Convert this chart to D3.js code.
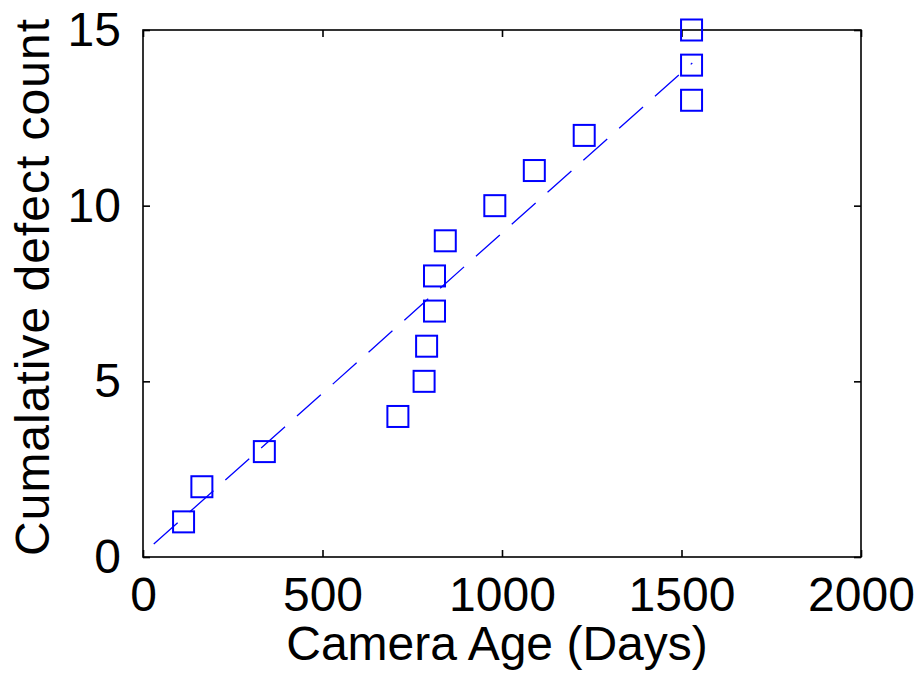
<!DOCTYPE html>
<html>
<head>
<meta charset="utf-8">
<script src="https://cdn.jsdelivr.net/npm/d3@7"></script>
<style>
  body { margin: 0; background: #fff; }
  text { font-family: "Liberation Sans", Arial, sans-serif; fill: #000; }
</style>
</head>
<body>
<div id="container"></div>
<script>
// defect data
var ageDays = [113, 164, 338, 710, 783, 790, 812, 812, 842, 980, 1090, 1229, 1528, 1528, 1528];
var defectCount = [1, 2, 3, 4, 5, 6, 7, 8, 9, 10, 11, 12, 13, 14, 15];

// dashed fit line end points
var fitX = [30, 1530];
var fitY = [0.37, 14.06];

var xTicks = [0, 500, 1000, 1500, 2000];
var yTicks = [0, 5, 10, 15];

var W = 919, H = 675;
var plotLeft = 143, plotRight = 861, plotTop = 30, plotBottom = 557;

var svg = d3.select("#container")
    .append("svg")
    .attr("width", W)
    .attr("height", H);

svg.append("rect").attr("width", W).attr("height", H).attr("fill", "#fff");

var x = d3.scaleLinear().domain([0, 2000]).range([plotLeft, plotRight]);
var y = d3.scaleLinear().domain([0, 15]).range([plotBottom, plotTop]);

var tickLen = 7;
var fmt = d3.format("d");

// axes, ticks pointing inwards like matlab
svg.append("g")
    .attr("transform", "translate(0," + plotBottom + ")")
    .call(d3.axisBottom(x).tickValues(xTicks).tickFormat(fmt).tickSize(-tickLen).tickPadding(20).tickSizeOuter(0));

svg.append("g")
    .attr("transform", "translate(0," + plotTop + ")")
    .call(d3.axisTop(x).tickValues(xTicks).tickSize(-tickLen).tickFormat("").tickSizeOuter(0));

svg.append("g")
    .attr("transform", "translate(" + plotLeft + ",0)")
    .call(d3.axisLeft(y).tickValues(yTicks).tickFormat(fmt).tickSize(-tickLen).tickPadding(22).tickSizeOuter(0));

svg.append("g")
    .attr("transform", "translate(" + plotRight + ",0)")
    .call(d3.axisRight(y).tickValues(yTicks).tickSize(-tickLen).tickFormat("").tickSizeOuter(0));

svg.selectAll(".domain").remove();
svg.selectAll(".tick line").attr("stroke", "#000").attr("stroke-width", 1.6);
svg.selectAll(".tick text")
    .style("font-size", "48px")
    .style("font-family", "'Liberation Sans', Arial, sans-serif")
    .attr("fill", "#000");

// box
svg.append("rect")
    .attr("x", plotLeft).attr("y", plotTop)
    .attr("width", plotRight - plotLeft).attr("height", plotBottom - plotTop)
    .attr("fill", "none")
    .attr("stroke", "#000")
    .attr("stroke-width", 1.6);

// dashed fit line
var fit = fitX.map(function (d, i) { return { x: d, y: fitY[i] }; });
svg.append("path")
    .datum(fit)
    .attr("d", d3.line().x(function (d) { return x(d.x); }).y(function (d) { return y(d.y); }))
    .attr("fill", "none")
    .attr("stroke", "#0000ff")
    .attr("stroke-width", 1.3)
    .attr("stroke-dasharray", "32,16");

// square markers
var pts = ageDays.map(function (d, i) { return { x: d, y: defectCount[i] }; });
var s = 21;
svg.selectAll("rect.pt")
    .data(pts)
    .enter()
    .append("rect")
    .attr("class", "pt")
    .attr("x", function (d) { return x(d.x) - s / 2; })
    .attr("y", function (d) { return y(d.y) - s / 2; })
    .attr("width", s)
    .attr("height", s)
    .attr("fill", "none")
    .attr("stroke", "#0000ff")
    .attr("stroke-width", 2);

// axis labels
svg.append("text")
    .attr("x", 497)
    .attr("y", 660)
    .attr("text-anchor", "middle")
    .style("font-size", "48px")
    .text("Camera Age (Days)");

svg.append("text")
    .attr("transform", "translate(49,287) rotate(-90)")
    .attr("text-anchor", "middle")
    .style("font-size", "48px")
    .style("letter-spacing", "1px")
    .text("Cumalative defect count");
</script>
</body>
</html>
